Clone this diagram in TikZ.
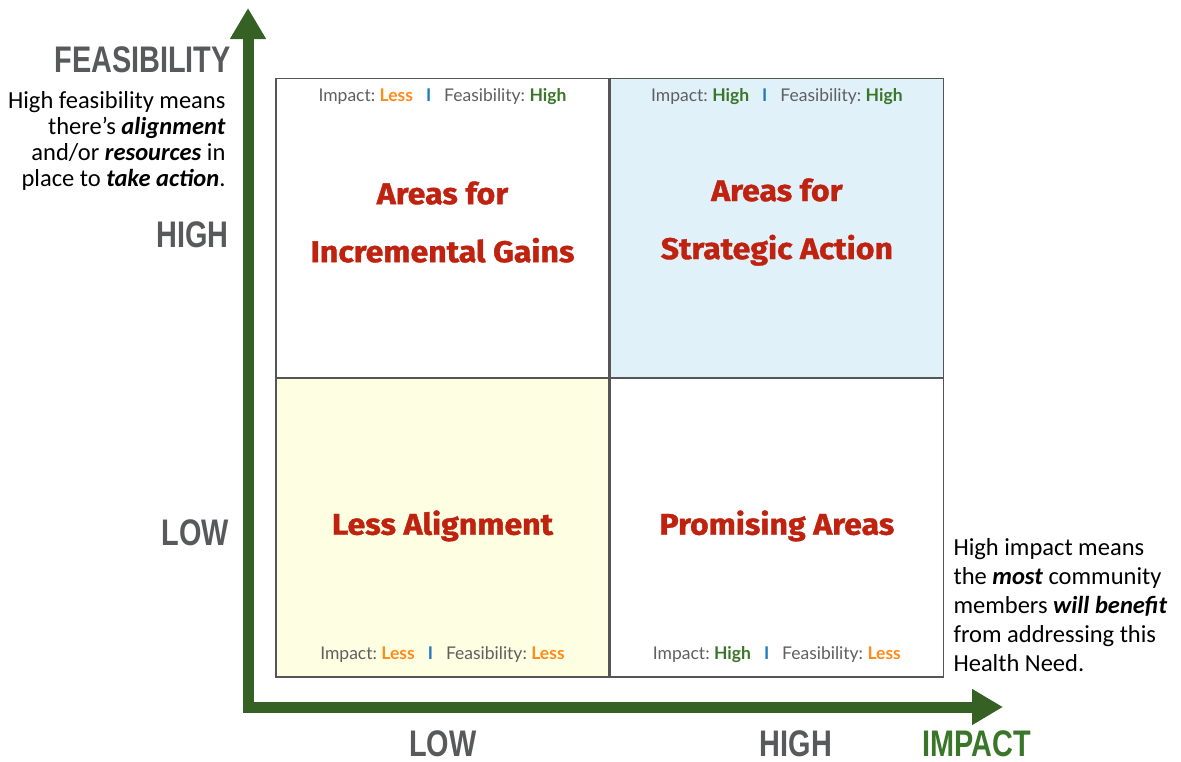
\documentclass[tikz,border=0pt]{standalone}
\usepackage{fontspec}
\setmainfont{Carlito}
\newfontfamily\axisfont[FakeStretch=0.78]{Liberation Sans}
\newfontfamily\quadfont{Lato}
\newfontfamily\titlefont[FakeBold=1.2, FakeStretch=1.07]{Fira Sans}
\usetikzlibrary{
    arrows.meta,
    positioning
}
\definecolor{Agreen}{RGB}{53, 97, 37}
\definecolor{Hgreen}{RGB}{58, 118, 42}
\definecolor{Lorange}{RGB}{255, 140, 26}
\definecolor{Sblue}{RGB}{31, 122, 192}
\definecolor{Tred}{RGB}{192, 34, 16}
\definecolor{Agray}{RGB}{88, 89, 91}
\definecolor{Tgray}{RGB}{95, 95, 95}
\definecolor{Gline}{RGB}{85, 85, 85}
\definecolor{Skyfill}{RGB}{225, 241, 249}
\definecolor{Lemonfill}{RGB}{254, 254, 227}
\tikzset{
    quad/.style={
        rectangle, draw=Gline, line width=1.4pt, fill=white,
        minimum width=333pt, minimum height=298.5pt, inner sep=0pt
    },
    qtitle/.style={
        text=Tred, align=center,
        font=\titlefont\bfseries\fontsize{30}{58}\selectfont
    },
    qtag/.style={text=Tgray, font=\quadfont\fontsize{17.5}{20}\selectfont},
    axislbl/.style={text=Agray, inner sep=0pt,
        font=\axisfont\bfseries\fontsize{37}{40}\selectfont},
    note/.style={text=black, font=\fontsize{24.5}{26}\selectfont},
    axisline/.style={
        line width=11pt, Agreen, line join=miter,
        {Triangle[length=31pt, width=34pt]}-{Triangle[length=31pt, width=34pt]}
    },
}
\newcommand{\lessw}{{\bfseries\color{Lorange}Less}}
\newcommand{\highw}{{\bfseries\color{Hgreen}High}}
\newcommand{\sepbar}{\hspace{13pt}{\bfseries\color{Sblue}I}\hspace{13pt}}

\begin{document}
\begin{tikzpicture}[x=1pt, y=-1pt]
    \useasboundingbox (0,0) rectangle (1181,761);

    % -- quadrants --------------------------------------
    \node [quad] (qIG) at (442.5,228) {};
    \node [quad, right=0pt of qIG, fill=Skyfill] (qSA) {};
    \node [quad, below=0pt of qIG, fill=Lemonfill] (qLA) {};
    \node [quad, right=0pt of qLA] (qPA) {};

    % -- quadrant titles --------------------------------
    \node [qtitle, yshift=6pt] (tIG) at (qIG) {Areas for\\Incremental Gains};
    \node [qtitle, yshift=6pt] (tSA) at (qSA) {Areas for\\Strategic Action};
    \node [qtitle, yshift=2pt] (tLA) at (qLA) {Less Alignment};
    \node [qtitle, yshift=2pt] (tPA) at (qPA) {Promising Areas};

    % -- quadrant tags ----------------------------------
    \node [qtag] (gIG) at ([yshift=-19pt]qIG.north)
        {Impact:~\lessw\sepbar Feasibility:~\highw};
    \node [qtag] (gSA) at ([yshift=-19pt]qSA.north)
        {Impact:~\highw\sepbar Feasibility:~\highw};
    \node [qtag] (gLA) at ([yshift=23pt]qLA.south)
        {Impact:~\lessw\sepbar Feasibility:~\lessw};
    \node [qtag] (gPA) at ([yshift=23pt]qPA.south)
        {Impact:~\highw\sepbar Feasibility:~\lessw};

    % -- axes -------------------------------------------
    \coordinate (origin) at (248,707);
    \coordinate (ytip) at (248,8);
    \coordinate (xtip) at (1003,707);
    \draw [axisline] (ytip) -- (origin) -- (xtip);

    % -- axis labels ------------------------------------
    \node [axislbl, anchor=east] (feas) at (231,60) {FEASIBILITY};
    \node [axislbl, anchor=east] (yhigh) at (229,235) {HIGH};
    \node [axislbl, anchor=east] (ylow) at (229,533) {LOW};
    \node [axislbl] (xlow) at (443,743.5) {LOW};
    \node [axislbl] (xhigh) at (796,743.5) {HIGH};
    \node [axislbl, text=Hgreen] (impact) at (977,743.5) {IMPACT};

    % -- notes ------------------------------------------
    \node [note, align=right, anchor=east] (nfeas) at (229,141)
        {High feasibility means\\
         there’s \textbf{\textit{alignment}}\\
         and/or \textbf{\textit{resources}} in\\
         place to \textbf{\textit{take action}}.};
    \node [note, align=left, anchor=west, font=\fontsize{24.5}{29}\selectfont]
        (nimp) at (950,605)
        {High impact means\\
         the \textbf{\textit{most}} community\\
         members \textbf{\textit{will benefit}}\\
         from addressing this\\
         Health Need.};

\end{tikzpicture}
\end{document}
